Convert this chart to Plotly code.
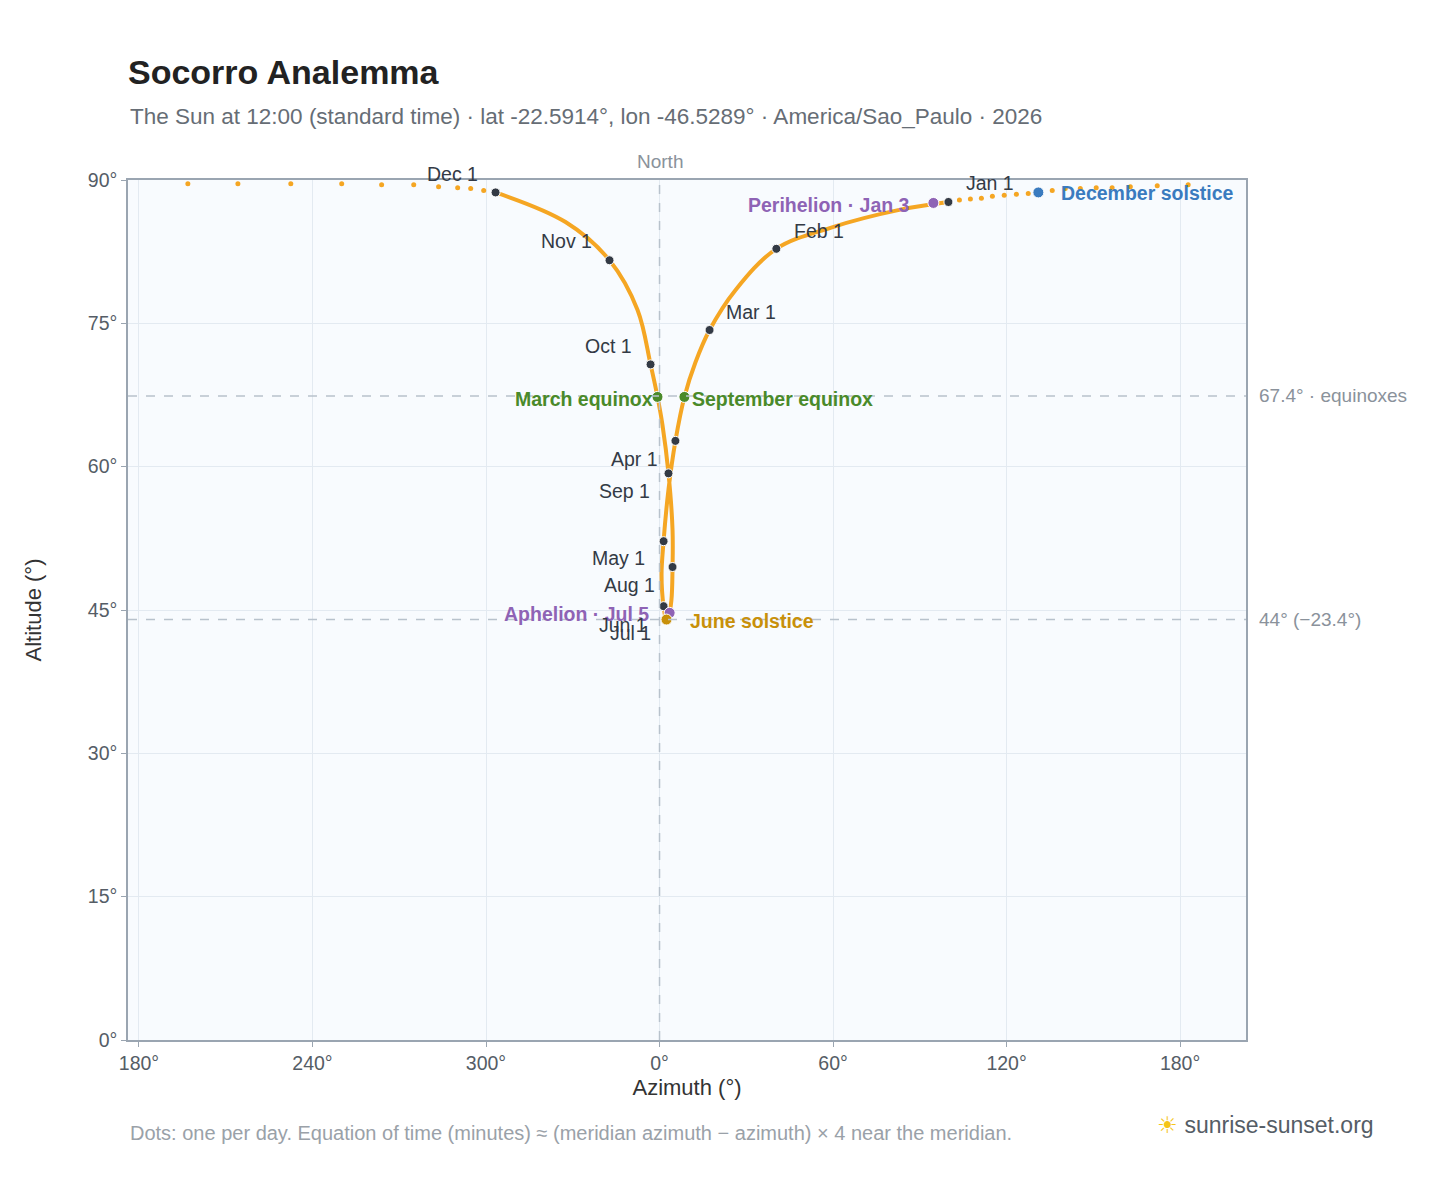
import plotly.graph_objects as go

# Noon-ish sun path (azimuth centred on North, altitude)
path_az = [99.9, 83.3, 59.1, 40.4, 26.3, 17.3, 12.4, 8.6, 5.5, 3.1, 1.4, 0.7, 1.4, 2.4, 3.1, 4.1, 4.5, 4.5, 3.1, 1.0, -0.7, -3.1, -7.6, -17.3, -32.5, -56.7]
path_alt = [87.7, 86.9, 85.0, 82.8, 78.5, 74.3, 70.9, 67.3, 62.7, 57.6, 52.2, 48.7, 45.4, 44.0, 44.3, 46.0, 49.5, 53.4, 59.3, 64.4, 67.3, 70.7, 76.4, 81.6, 85.6, 88.7]

# sparse daily dots near the zenith
dot_az = [-60.8, -65.3, -69.8, -76.4, -85.0, -96.1, -109.9, -127.5, -145.8, -163.1,
          182.8, 172.1, 162.8, 156.5, 151.0, 145.5, 140.3, 135.8, 131.0,
          127.5, 123.4, 119.2, 115.1, 111.3, 107.5, 103.7]
dot_alt = [88.9, 89.1, 89.2, 89.3, 89.5, 89.5, 89.6, 89.6, 89.6, 89.6,
           89.5, 89.4, 89.3, 89.2, 89.2, 89.1, 89.1, 88.9, 88.7,
           88.6, 88.5, 88.4, 88.3, 88.1, 88.0, 87.9]

month_az = [99.9, 40.4, 17.3, 5.5, 1.4, 1.4, 4.5, 3.1, -3.1, -17.3, -56.7]
month_alt = [87.7, 82.8, 74.3, 62.7, 52.2, 45.4, 49.5, 59.3, 70.7, 81.6, 88.7]

month_labels = ["Nov 1", "Oct 1", "Apr 1", "Sep 1", "May 1", "Aug 1", "Jun 1", "Jul 1", "Jan 1", "Feb 1", "Mar 1"]
month_label_az = [-32.1, -17.6, -8.6, -12.1, -14.2, -10.4, -12.8, -10.0, 114.4, 55.3, 31.8]
month_label_alt = [83.6, 72.6, 60.8, 57.5, 50.4, 47.6, 43.4, 42.6, 89.7, 84.7, 76.2]
dec_label = ("Dec 1", -71.5, 90.6)

x_ticks = [-180, -120, -60, 0, 60, 120, 180]
x_tick_text = ["180°", "240°", "300°", "0°", "60°", "120°", "180°"]
y_ticks = [0, 15, 30, 45, 60, 75, 90]

ORANGE = "#f5a623"
fig = go.Figure()
fig.add_trace(go.Scatter(x=path_az, y=path_alt, mode="lines", line=dict(color=ORANGE, width=4, shape="spline"), hoverinfo="skip"))
fig.add_trace(go.Scatter(x=dot_az, y=dot_alt, mode="markers", marker=dict(color=ORANGE, size=5), cliponaxis=False))
fig.add_trace(go.Scatter(x=month_az, y=month_alt, mode="markers",
                         marker=dict(color="#333a45", size=9, line=dict(color="white", width=1))))

specials = [
    (94.7, 87.6, "#8e63b5", "Perihelion · Jan 3", 87.4, 87.4, "right"),
    (131.0, 88.7, "#3a7bbf", "December solstice", 138.2, 88.6, "left"),
    (-0.7, 67.3, "#4a8a2a", "March equinox", -1.4, 67.1, "right"),
    (8.6, 67.3, "#4a8a2a", "September equinox", 10.7, 67.1, "left"),
    (3.5, 44.7, "#8e63b5", "Aphelion · Jul 5", -3.1, 44.6, "right"),
    (2.4, 44.0, "#c8900a", "June solstice", 9.7, 43.8, "left"),
]
for sx, sy, col, txt, lx, ly, anc in specials:
    fig.add_trace(go.Scatter(x=[sx], y=[sy], mode="markers",
                             marker=dict(color=col, size=11, line=dict(color="white", width=1))))
    fig.add_annotation(x=lx, y=ly, text=f"<b>{txt}</b>", showarrow=False, xanchor=anc,
                       font=dict(color=col, size=19.5))

for t, lx, ly in zip(month_labels, month_label_az, month_label_alt):
    fig.add_annotation(x=lx, y=ly, text=t, showarrow=False, font=dict(color="#333a45", size=19.5))
fig.add_annotation(x=dec_label[1], y=dec_label[2] / 90, yref="paper", yanchor="middle", text=dec_label[0],
                   showarrow=False, font=dict(color="#333a45", size=19.5))

for yv, txt in [(67.4, "67.4° · equinoxes"), (44, "44° (−23.4°)")]:
    fig.add_hline(y=yv, line=dict(color="#b8c2cc", width=1.5, dash="dash"))
    fig.add_annotation(x=1.0, xref="paper", y=yv, text=txt, showarrow=False, xanchor="left", xshift=11,
                       font=dict(color="#8a929b", size=19))
fig.add_vline(x=0, line=dict(color="#b8c2cc", width=1.5, dash="dash"))
fig.add_annotation(x=0, y=1.0, yref="paper", text="North", showarrow=False, yanchor="bottom", yshift=6,
                   font=dict(color="#8a929b", size=19))

fig.update_layout(
    width=1448, height=1188, showlegend=False,
    paper_bgcolor="white", plot_bgcolor="#f8fbfe",
    margin=dict(l=120, r=210, t=172, b=156),
    font=dict(family="Liberation Sans, Arial, sans-serif", color="#555d66", size=19.5),
    title=dict(text="<b>Socorro Analemma</b>", x=120/1448, xanchor="left", y=1-64/1188, yanchor="middle",
               font=dict(size=34, color="#222")),
    xaxis=dict(range=[-183.8, 202.8], tickvals=x_ticks, ticktext=x_tick_text, showgrid=True, gridcolor="#e3eaf1",
               zeroline=False, showline=True, linecolor="#9aa5b1", mirror=True, linewidth=1.5,
               ticks="outside", ticklen=5, tickcolor="#9aa5b1",
               title=dict(text="Azimuth (°)", font=dict(size=22, color="#333"), standoff=6)),
    yaxis=dict(range=[0, 90], tickvals=y_ticks, ticktext=[f"{v}°" for v in y_ticks], showgrid=True, gridcolor="#e3eaf1",
               zeroline=False, showline=True, linecolor="#9aa5b1", mirror=True, linewidth=1.5,
               ticks="outside", ticklen=5, tickcolor="#9aa5b1",
               title=dict(text="Altitude (°)", font=dict(size=22, color="#333"), standoff=40)),
)
fig.add_annotation(x=0, xref="paper", y=1 + 64/860, yref="paper", xanchor="left", yanchor="middle", showarrow=False,
                   text="The Sun at 12:00 (standard time) · lat -22.5914°, lon -46.5289° · America/Sao_Paulo · 2026",
                   font=dict(size=22.5, color="#666d75"))
fig.add_annotation(x=0, xref="paper", y=-93/860, yref="paper", xanchor="left", yanchor="middle", showarrow=False,
                   text="Dots: one per day. Equation of time (minutes) ≈ (meridian azimuth − azimuth) × 4 near the meridian.",
                   font=dict(size=20, color="#9aa1a8"))
fig.add_annotation(x=1.0, xshift=130, xref="paper", y=-85/860, yref="paper", xanchor="right", yanchor="middle", showarrow=False,
                   text="<span style='color:#f5c518'>☀</span> sunrise-sunset.org",
                   font=dict(size=23, color="#555d66"))
fig.write_html("out.html")
